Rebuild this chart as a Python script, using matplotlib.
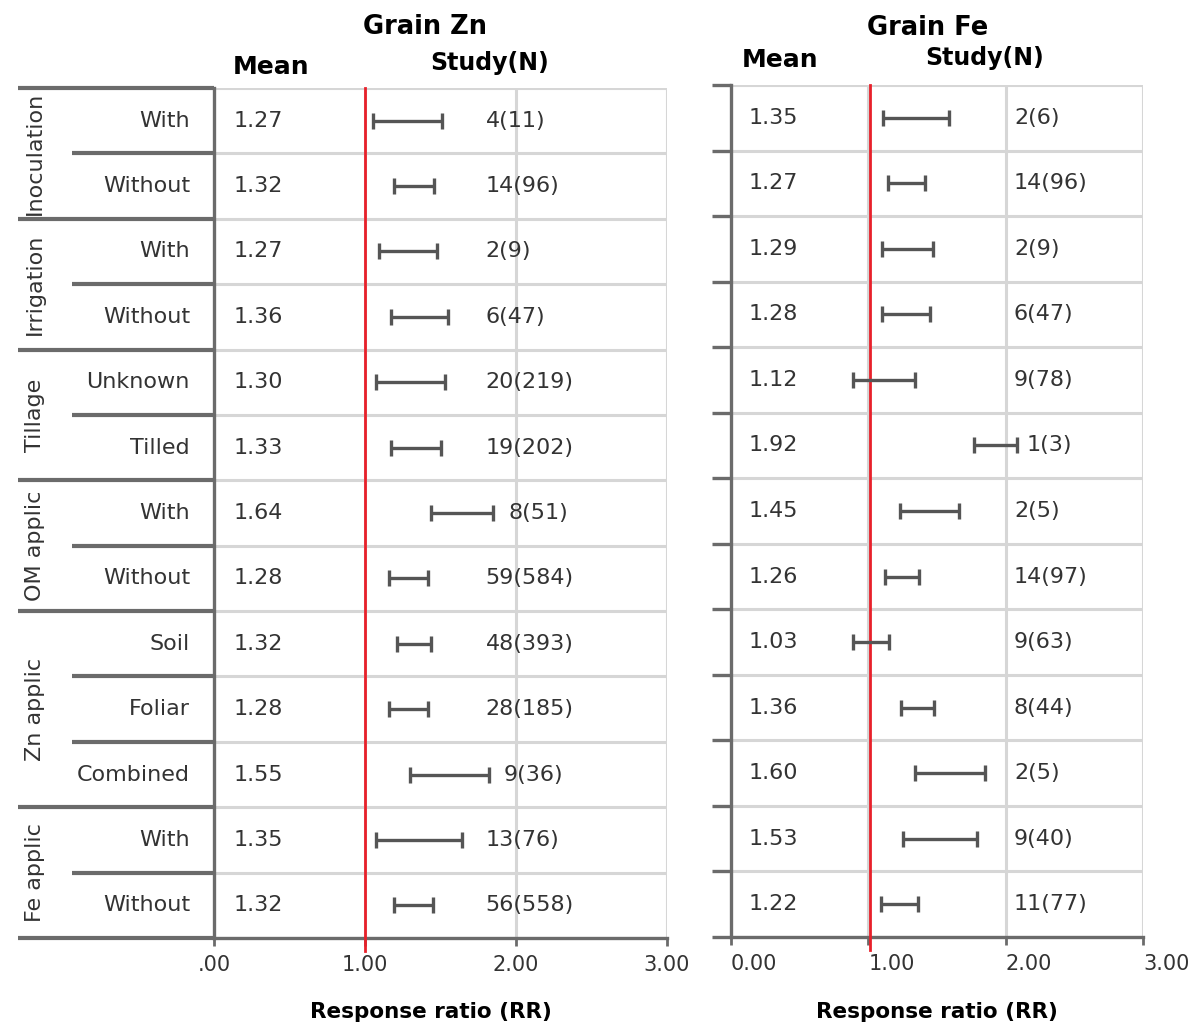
import matplotlib.pyplot as plt
from matplotlib.transforms import blended_transform_factory

# categories
groups = ["Inoculation", "Irrigation", "Tillage", "OM applic", "Zn applic", "Fe applic"]
group_sizes = [2, 2, 2, 2, 3, 2]
levels = ["With", "Without", "With", "Without", "Unknown", "Tilled", "With", "Without",
          "Soil", "Foliar", "Combined", "With", "Without"]

# Grain Zn
zn_mean = [1.27, 1.32, 1.27, 1.36, 1.30, 1.33, 1.64, 1.28, 1.32, 1.28, 1.55, 1.35, 1.32]
zn_lo = [1.05, 1.19, 1.09, 1.17, 1.07, 1.17, 1.44, 1.16, 1.21, 1.16, 1.30, 1.07, 1.19]
zn_hi = [1.51, 1.46, 1.48, 1.55, 1.53, 1.50, 1.85, 1.42, 1.44, 1.42, 1.82, 1.64, 1.45]
zn_n = ["4(11)", "14(96)", "2(9)", "6(47)", "20(219)", "19(202)", "8(51)", "59(584)",
        "48(393)", "28(185)", "9(36)", "13(76)", "56(558)"]

# Grain Fe
fe_mean = [1.35, 1.27, 1.29, 1.28, 1.12, 1.92, 1.45, 1.26, 1.03, 1.36, 1.60, 1.53, 1.22]
fe_lo = [1.11, 1.14, 1.10, 1.10, 0.89, 1.77, 1.23, 1.12, 0.89, 1.24, 1.34, 1.25, 1.09]
fe_hi = [1.59, 1.41, 1.47, 1.45, 1.34, 2.08, 1.66, 1.37, 1.15, 1.48, 1.85, 1.79, 1.36]
fe_n = ["2(6)", "14(96)", "2(9)", "6(47)", "9(78)", "1(3)", "2(5)", "14(97)",
        "9(63)", "8(44)", "2(5)", "9(40)", "11(77)"]

zn_ticks = [".00", "1.00", "2.00", "3.00"]
fe_ticks = ["0.00", "1.00", "2.00", "3.00"]

DARK = "#6b6b6b"
GRID = "#d6d6d6"
TXT = "#333333"
FS = 16

plt.rcParams["font.family"] = "DejaVu Sans"

fig = plt.figure(figsize=(11.96, 10.25), dpi=100)
W, H = 1196, 1025


def px_axes(l, t, r, b):
    return fig.add_axes([l / W, 1 - b / H, (r - l) / W, (b - t) / H])


def panel(ax, mean, lo, hi, ns, ticks, ref, n_x, gap, ha):
    nrow = len(mean)
    ys = list(range(nrow))
    ax.set_xlim(0, 3)
    ax.set_ylim(nrow - 0.5, -0.5)
    bounds = [i - 0.5 for i in range(nrow + 1)]
    for b in bounds:
        ax.axhline(b, color=GRID, lw=2.2, zorder=1)
    for x in [1, 2, 3]:
        ax.axvline(x, color=GRID, lw=2.2, zorder=1)
    ax.axvline(ref, color="#e8202a", lw=2.0, zorder=3, ymin=-0.015, clip_on=False)
    xerr = [[m - l for m, l in zip(mean, lo)], [h - m for m, h in zip(mean, hi)]]
    ax.errorbar(mean, ys, xerr=xerr, fmt="none", ecolor="#555555", elinewidth=2.4,
                capsize=5.5, capthick=2.4, zorder=4)
    for y, m, n, h in zip(ys, mean, ns, hi):
        ax.text(0.13, y, f"{m:.2f}", fontsize=FS, color=TXT, va="center", ha="left")
        ax.text(max(n_x, h + gap), y, n, fontsize=FS, color=TXT, va="center", ha="left")
    for s in ["top", "right"]:
        ax.spines[s].set_visible(False)
    for s in ["left", "bottom"]:
        ax.spines[s].set_color(DARK)
        ax.spines[s].set_linewidth(2.4)
    ax.set_xticks([0, 1, 2, 3])
    ax.set_xticklabels(ticks, ha=ha)
    ax.tick_params(axis="x", length=6, width=2, color=DARK, labelsize=15,
                   labelcolor=TXT, pad=6)
    return bounds


# left panel: Grain Zn
ax1 = px_axes(214, 88, 667, 938)
b1 = panel(ax1, zn_mean, zn_lo, zn_hi, zn_n, zn_ticks, 1.0, 1.8, 0.1, "center")
ax1.set_yticks([])
tr = blended_transform_factory(ax1.transAxes, ax1.transData)
grp_x0 = (18 - 214) / 453
sub_x0 = (72 - 214) / 453
start = 0
group_edges = {-0.5}
for g, size in zip(groups, group_sizes):
    group_edges.add(start + size - 0.5)
    ax1.text((35 - 214) / 453, start + (size - 1) / 2, g, rotation=90, fontsize=FS,
             color=TXT, ha="center", va="center", transform=tr)
    start += size
for b in b1:
    x0 = grp_x0 if b in group_edges else sub_x0
    ax1.plot([x0, 0], [b, b], color=DARK, lw=3, transform=tr, clip_on=False,
             solid_capstyle="butt")
for y, lab in enumerate(levels):
    ax1.text(-0.053, y, lab, fontsize=FS, color=TXT, ha="right", va="center",
             transform=tr)

# right panel: Grain Fe
ax2 = px_axes(731, 85, 1143, 937)
b2 = panel(ax2, fe_mean, fe_lo, fe_hi, fe_n, fe_ticks, 1.01, 2.06, 0.07, "left")
ax2.set_yticks(b2)
ax2.set_yticklabels([])
ax2.tick_params(axis="y", length=14, width=2.4, color=DARK)

# headers
fig.text(425 / W, 1 - 27 / H, "Grain Zn", fontsize=18.5, fontweight="bold",
         ha="center", va="center")
fig.text(928 / W, 1 - 28 / H, "Grain Fe", fontsize=18.5, fontweight="bold",
         ha="center", va="center")
for x, y, t, fs in [(271, 67, "Mean", 18), (490, 63, "Study(N)", 17),
                    (780, 60, "Mean", 18), (985, 58, "Study(N)", 17)]:
    fig.text(x / W, 1 - y / H, t, fontsize=fs, fontweight="bold", ha="center",
             va="center")
for x in [431, 937]:
    fig.text(x / W, 1 - 1012 / H, "Response ratio (RR)", fontsize=15.5,
             fontweight="bold", ha="center", va="center")

fig.savefig("out.png", dpi=100)
